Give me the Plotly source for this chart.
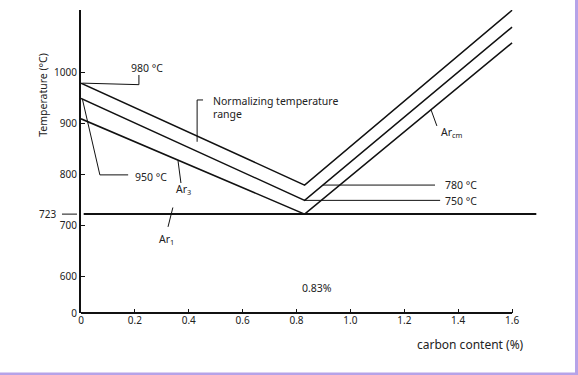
import plotly.graph_objects as go

# ---------------- data ----------------
carbon_pts = [0.0, 0.83, 1.6]            # carbon content (%) at start, eutectoid, end
upper_normalizing = [980, 780, 1123]     # upper limit of normalizing range (°C)
lower_normalizing = [950, 750, 1090]     # lower limit of normalizing range (°C)
ar3_arcm = [910, 723, 1059]              # Ar3 (left) / Arcm (right) (°C)
ar1_temp = 723                           # Ar1 (°C)
ar1_carbon = [0.01, 1.69]
x_tickvals = [0, 0.2, 0.4, 0.6, 0.8, 1.0, 1.2, 1.4, 1.6]
x_ticktext = ["0", "0.2", "0.4", "0.6", "0.8", "1.0", "1.2", "1.4", "1.6"]
y_break = 529                            # broken axis: bottom of axis labelled "0"
y_tickvals = [y_break, 600, 700, 800, 900, 1000]
y_ticktext = ["0", "600", "700", "800", "900", "1000"]

FONT = "Noto Sans"
TXT = "#222222"

fig = go.Figure()

def line(x, y, w=1.5):
    fig.add_trace(go.Scatter(x=x, y=y, mode="lines", line=dict(color="#111111", width=w),
                             hoverinfo="skip", showlegend=False))

line(carbon_pts, upper_normalizing)
line(carbon_pts, lower_normalizing)
line(carbon_pts, ar3_arcm)
line(ar1_carbon, [ar1_temp, ar1_temp], 2)

# leader lines
leaders = [
    ([0.005, 0.215, 0.215], [980, 977, 996]),
    ([0.431, 0.431, 0.453], [865, 947, 947]),
    ([0.005, 0.07, 0.175], [949, 800, 800]),
    ([0.36, 0.371], [828, 784]),
    ([0.341, 0.323], [736, 698]),
    ([1.299, 1.321], [928, 896]),
    ([0.898, 1.314], [780, 780]),
    ([0.83, 1.333], [750, 750]),
]
for lx, ly in leaders:
    line(lx, ly, 1)

def note(text, x, y, xanchor="left", xref="x", yref="y", size=10.5, **kw):
    fig.add_annotation(text=text, x=x, y=y, xref=xref, yref=yref, xanchor=xanchor,
                       yanchor="middle", showarrow=False,
                       font=dict(family=FONT, size=size, color=TXT), **kw)

note("980 °C", 0.178, 1010)
note("Normalizing temperature", 0.483, 945)
note("range", 0.483, 920)
note("950 °C", 0.193, 796)
note("Ar<sub>3</sub>", 0.38, 772, xanchor="center")
note("Ar<sub>1</sub>", 0.316, 674, xanchor="center")
note("Ar<sub>cm</sub>", 1.329, 884)
note("780 °C", 1.344, 780)
note("750 °C", 1.344, 748)
note("0.83%", 0.813, 578)
note("723", -0.05, 723, xanchor="right", xref="paper", size=10)
note("carbon content (%)", 1.652, -0.105, xanchor="right", yref="paper", size=12)
note("Temperature (°C)", -0.083, 0.72, xanchor="center", xref="paper", yref="paper",
     size=10.5, textangle=-90)

shapes = [
    # x axis line (0 .. 1.6)
    dict(type="line", xref="x", yref="paper", x0=0, x1=1.6, y0=0, y1=0,
         line=dict(color="#111111", width=2)),
    # 723 tick dash left of axis
    dict(type="line", xref="paper", yref="y", x0=-0.0415, x1=-0.0087, y0=723, y1=723,
         line=dict(color="#111111", width=1)),
    # purple frame (right and bottom)
    dict(type="rect", xref="paper", yref="paper", x0=1.0786, x1=1.09, y0=-0.21, y1=1.04,
         fillcolor="#b6a3e8", line=dict(width=0)),
    dict(type="rect", xref="paper", yref="paper", x0=-0.19, x1=1.09, y0=-0.21, y1=-0.1966,
         fillcolor="#b6a3e8", line=dict(width=0)),
]

fig.update_layout(
    width=578, height=375,
    margin=dict(l=81, r=39, t=10, b=62),
    paper_bgcolor="white", plot_bgcolor="white",
    shapes=shapes,
    showlegend=False,
    xaxis=dict(range=[0, 1.7], showline=False, showgrid=False, zeroline=False,
               tickvals=x_tickvals, ticktext=x_ticktext, ticks="inside", ticklen=4,
               tickcolor="#111111", tickwidth=1.2,
               tickfont=dict(family=FONT, size=10, color=TXT)),
    yaxis=dict(range=[y_break, 1123.5], showline=True, linecolor="#111111", linewidth=2,
               showgrid=False, zeroline=False, tickvals=y_tickvals, ticktext=y_ticktext,
               ticks="inside", ticklen=4, tickcolor="#111111", tickwidth=1.2,
               tickfont=dict(family=FONT, size=10, color=TXT)),
)

fig.write_html("out.html", config={"displayModeBar": False},
               post_script="document.body.style.margin='0';document.body.style.overflow='hidden';")
